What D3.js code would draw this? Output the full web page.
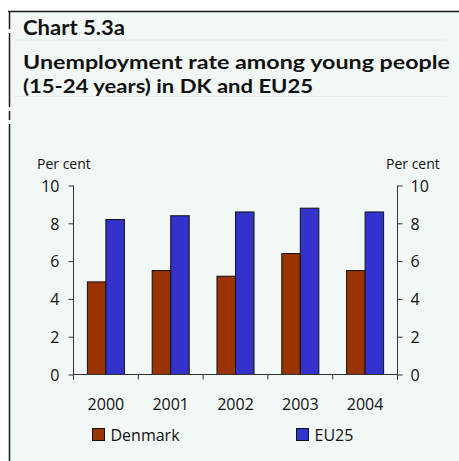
<!DOCTYPE html>
<html>
<head>
<meta charset="utf-8">
<script src="https://cdn.jsdelivr.net/npm/d3@7/dist/d3.min.js"></script>
<style>
  html, body { margin: 0; padding: 0; background: #ffffff; }
  svg { display: block; }
  text { font-family: "Open Sans", "DejaVu Sans", sans-serif; fill: #111; }
  text.heading { font-family: Lato, "Open Sans", sans-serif; font-weight: 700; }
</style>
</head>
<body>
<svg id="chart" width="459" height="461"></svg>
<script>
// Youth unemployment rate (15-24 years), per cent
const years = ["2000", "2001", "2002", "2003", "2004"];
const denmark = [4.9, 5.5, 5.2, 6.4, 5.5];
const eu25 = [8.2, 8.4, 8.6, 8.8, 8.6];
const seriesNames = ["Denmark", "EU25"];
const seriesColors = ["#993300", "#3333cc"];
const yTicks = [0, 2, 4, 6, 8, 10];
const chartNumber = "Chart 5.3a";
const titleLines = ["Unemployment rate among young people", "(15-24 years) in DK and EU25"];
const titleWidths = [427, 290];
const unitLabel = "Per cent";

const svg = d3.select("#chart");

// panel background and frame
svg.append("rect").attr("x", 10).attr("y", 11).attr("width", 449).attr("height", 450).attr("fill", "#f1f8f5");
svg.append("line").attr("x1", 8).attr("x2", 459).attr("y1", 11.5).attr("y2", 11.5)
  .attr("stroke", "#1a1a1a").attr("stroke-width", 1.5);
[[12, 29], [33, 107], [111, 120], [124, 461]].forEach(([a, b]) => {
  svg.append("line").attr("x1", 9.5).attr("x2", 9.5).attr("y1", a).attr("y2", b)
    .attr("stroke", "#1a1a1a").attr("stroke-width", 1.5);
});
// faint rules around the heading
[40, 96.5].forEach(y => {
  svg.append("line").attr("x1", 14).attr("x2", 447).attr("y1", y).attr("y2", y)
    .attr("stroke", "#e4eeeb").attr("stroke-width", 1);
});

// heading: chart number, then the two title lines
svg.append("text").attr("class", "heading").attr("x", 23).attr("y", 35)
  .attr("font-size", 20).attr("textLength", 102).attr("lengthAdjust", "spacingAndGlyphs")
  .text(chartNumber);
const titleBaselines = [69, 92.5];
titleLines.forEach((t, i) => {
  svg.append("text").attr("class", "heading").attr("x", 23).attr("y", titleBaselines[i])
    .attr("font-size", 19.5)
    .attr("textLength", titleWidths[i]).attr("lengthAdjust", "spacingAndGlyphs")
    .text(t);
});

// scales
const x = d3.scaleBand().domain(years).range([73.5, 397.5]).paddingInner(0).paddingOuter(0);
const xs = d3.scaleBand().domain(seriesNames).range([0, x.bandwidth()]).paddingInner(0).paddingOuter(0.75);
const y = d3.scaleLinear().domain([0, 10]).range([374.5, 185.5]);

// bars
const rows = years.map((yr, i) => ({ year: yr, values: [denmark[i], eu25[i]] }));
const groups = svg.append("g").selectAll("g").data(rows).join("g")
  .attr("transform", d => `translate(${x(d.year)},0)`);
groups.selectAll("rect").data(d => d.values.map((v, k) => ({ name: seriesNames[k], v, k })))
  .join("rect")
  .attr("x", d => xs(d.name))
  .attr("width", xs.bandwidth())
  .attr("y", d => y(d.v))
  .attr("height", d => y(0) - y(d.v))
  .attr("fill", d => seriesColors[d.k])
  .attr("stroke", "#111").attr("stroke-width", 1);

// left and right value axes
const axisColor = "#333";
const yAxisL = svg.append("g").attr("transform", `translate(${x.range()[0]},0)`)
  .call(d3.axisLeft(y).tickValues(yTicks).tickSize(5).tickPadding(9).tickFormat(d3.format("d")));
const yAxisR = svg.append("g").attr("transform", `translate(${x.range()[1]},0)`)
  .call(d3.axisRight(y).tickValues(yTicks).tickSize(5).tickPadding(8).tickFormat(d3.format("d")));
[yAxisL, yAxisR].forEach(g => {
  g.select(".domain").remove();
  g.selectAll(".tick line").attr("stroke", axisColor);
  g.selectAll(".tick text").attr("font-size", 16).attr("font-family", null).attr("fill", "#111").attr("dy", "0.36em");
  g.append("line").attr("y1", y(10)).attr("y2", y(0) + 5).attr("stroke", axisColor);
});

// category axis: baseline, boundary ticks, centred year labels
const xAxis = svg.append("g");
xAxis.append("line").attr("x1", x.range()[0]).attr("x2", x.range()[1])
  .attr("y1", y(0)).attr("y2", y(0)).attr("stroke", axisColor);
const edges = years.map(d => x(d)).concat([x.range()[1]]);
xAxis.selectAll("line.edge").data(edges).join("line").attr("class", "edge")
  .attr("x1", d => d).attr("x2", d => d).attr("y1", y(0)).attr("y2", y(0) + 5)
  .attr("stroke", axisColor);
xAxis.selectAll("text").data(years).join("text")
  .attr("x", d => x(d) + x.bandwidth() / 2).attr("y", 410)
  .attr("text-anchor", "middle").attr("font-size", 16).text(d => d);

// unit labels
svg.append("text").attr("x", 37).attr("y", 169).attr("font-size", 14).text(unitLabel);
svg.append("text").attr("x", 386).attr("y", 169).attr("font-size", 14).text(unitLabel);

// legend
const legendX = [92.5, 296.5];
seriesNames.forEach((name, k) => {
  svg.append("rect").attr("x", legendX[k]).attr("y", 428.5).attr("width", 12).attr("height", 12)
    .attr("fill", seriesColors[k]).attr("stroke", "#111").attr("stroke-width", 1);
  svg.append("text").attr("x", legendX[k] + 18).attr("y", 441).attr("font-size", 16).text(name);
});
</script>
</body>
</html>
